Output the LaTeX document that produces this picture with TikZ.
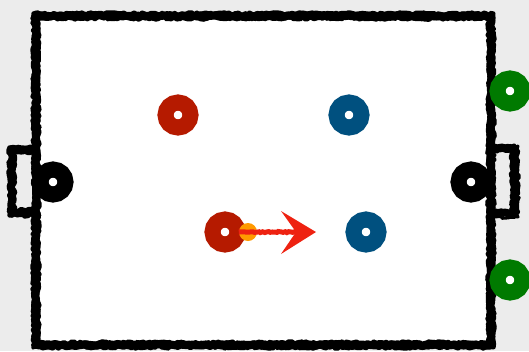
\documentclass[tikz,border=0pt]{standalone}
\usetikzlibrary{decorations.pathmorphing}
\definecolor{bgGrey}{HTML}{ECECEC}
\definecolor{redP}{HTML}{B51A00}
\definecolor{blueP}{HTML}{00507F}
\definecolor{greenP}{HTML}{007A00}
\definecolor{ballC}{HTML}{FF9A00}
\definecolor{arrowC}{HTML}{EE2211}
\tikzset{
  player/.style={circle, draw=#1, line width=16pt, fill=white, minimum size=25pt, inner sep=0pt},
  ball/.style={circle, fill=ballC, minimum size=18pt, inner sep=0pt},
  rough/.style={draw=black, line join=round, decorate, decoration={random steps, segment length=2.5pt, amplitude=1.3pt}},
}
\begin{document}
\begin{tikzpicture}[x=1pt,y=-1pt]
\pgfmathsetseed{7}
\useasboundingbox (0,0) rectangle (529,351);
\fill[bgGrey] (0,0) rectangle (529,351);
% field
\fill[white] (36,16) rectangle (491,345);
% goals
\draw[rough, line width=8pt] (40,150) -- (12,150) -- (12,212) -- (40,212);
\draw[rough, line width=3pt] (40,147) -- (9,147) -- (9,216) -- (40,216);
\draw[rough, line width=8pt] (488,149) -- (514,149) -- (514,213) -- (488,213);
\draw[rough, line width=3pt] (488,146) -- (518,146) -- (518,217) -- (488,217);
% border
\draw[rough, line width=8pt] (36,16) rectangle (491,345);
\draw[rough, line width=3pt] (33,13) rectangle (494,348);
\draw[rough, line width=3pt] (39,19) rectangle (488,342);
% players
\node[player=redP] (r1) at (178,115) {};
\node[player=blueP] (b1) at (349,115) {};
\node[player=black] (k1) at (53,182) {};
\node[player=black] (k2) at (471,182) {};
\node[player=redP] (r2) at (225,232) {};
\node[player=blueP] (b2) at (366,232) {};
\node[player=greenP] (g1) at (510,91) {};
\node[player=greenP] (g2) at (510,280) {};
\node[ball] (ball) at (248,232) {};
% arrow
\coordinate (tipB) at (297,232);
\draw[arrowC, line width=5pt, decorate, decoration={random steps, segment length=2pt, amplitude=0.6pt}] (ball.west) -- (tipB);
\fill[arrowC] (316,232) -- (281,211) -- (296,232) -- (281,254) -- cycle;
\end{tikzpicture}
\end{document}
